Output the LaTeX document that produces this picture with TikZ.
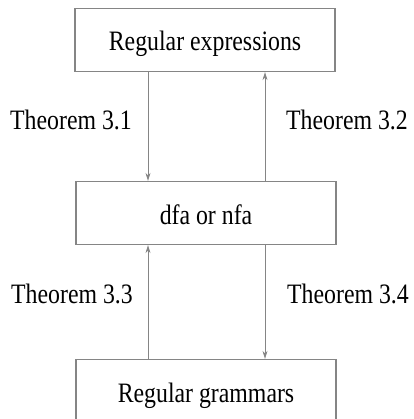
\documentclass[tikz,border=0pt]{standalone}
\usepackage{fontspec}
\setmainfont{Liberation Serif}
\usetikzlibrary{arrows.meta}
\definecolor{linegray}{HTML}{858585}
\newcommand{\tall}[1]{\scalebox{1}[1.18]{#1}}
\begin{document}
\begin{tikzpicture}[x=1pt,y=-1pt,
  box/.style={draw=linegray, line width=1.3pt, minimum width=260pt, minimum height=63pt,
    inner sep=0pt, text height=28pt, text depth=6pt, font=\fontsize{23.8}{26}\selectfont},
  conn/.style={draw=linegray, line width=0.9pt, -{Stealth[length=8pt,width=5pt]}},
  lbl/.style={font=\fontsize{23.8}{26}\selectfont, inner sep=0pt, anchor=base}]
\useasboundingbox (0,0) rectangle (413,419);
\node[box] (re) at (205,40) {\tall{Regular expressions}};
\node[box] (fa) at (206,213) {\tall{dfa or nfa}};
\node[box] (rg) at (206,391) {\tall{Regular grammars}};
\coordinate (xl) at (148,0);
\coordinate (xr) at (265,0);
\draw[conn] (re.south -| xl) -- (fa.north -| xl);
\draw[conn] (fa.north -| xr) -- (re.south -| xr);
\draw[conn] (rg.north -| xl) -- (fa.south -| xl);
\draw[conn] (fa.south -| xr) -- (rg.north -| xr);
\node[lbl] (t1) at (71,130) {\tall{Theorem 3.1}};
\node[lbl] (t2) at (347,130) {\tall{Theorem 3.2}};
\node[lbl] (t3) at (72,303) {\tall{Theorem 3.3}};
\node[lbl] (t4) at (348,303) {\tall{Theorem 3.4}};
\end{tikzpicture}
\end{document}
